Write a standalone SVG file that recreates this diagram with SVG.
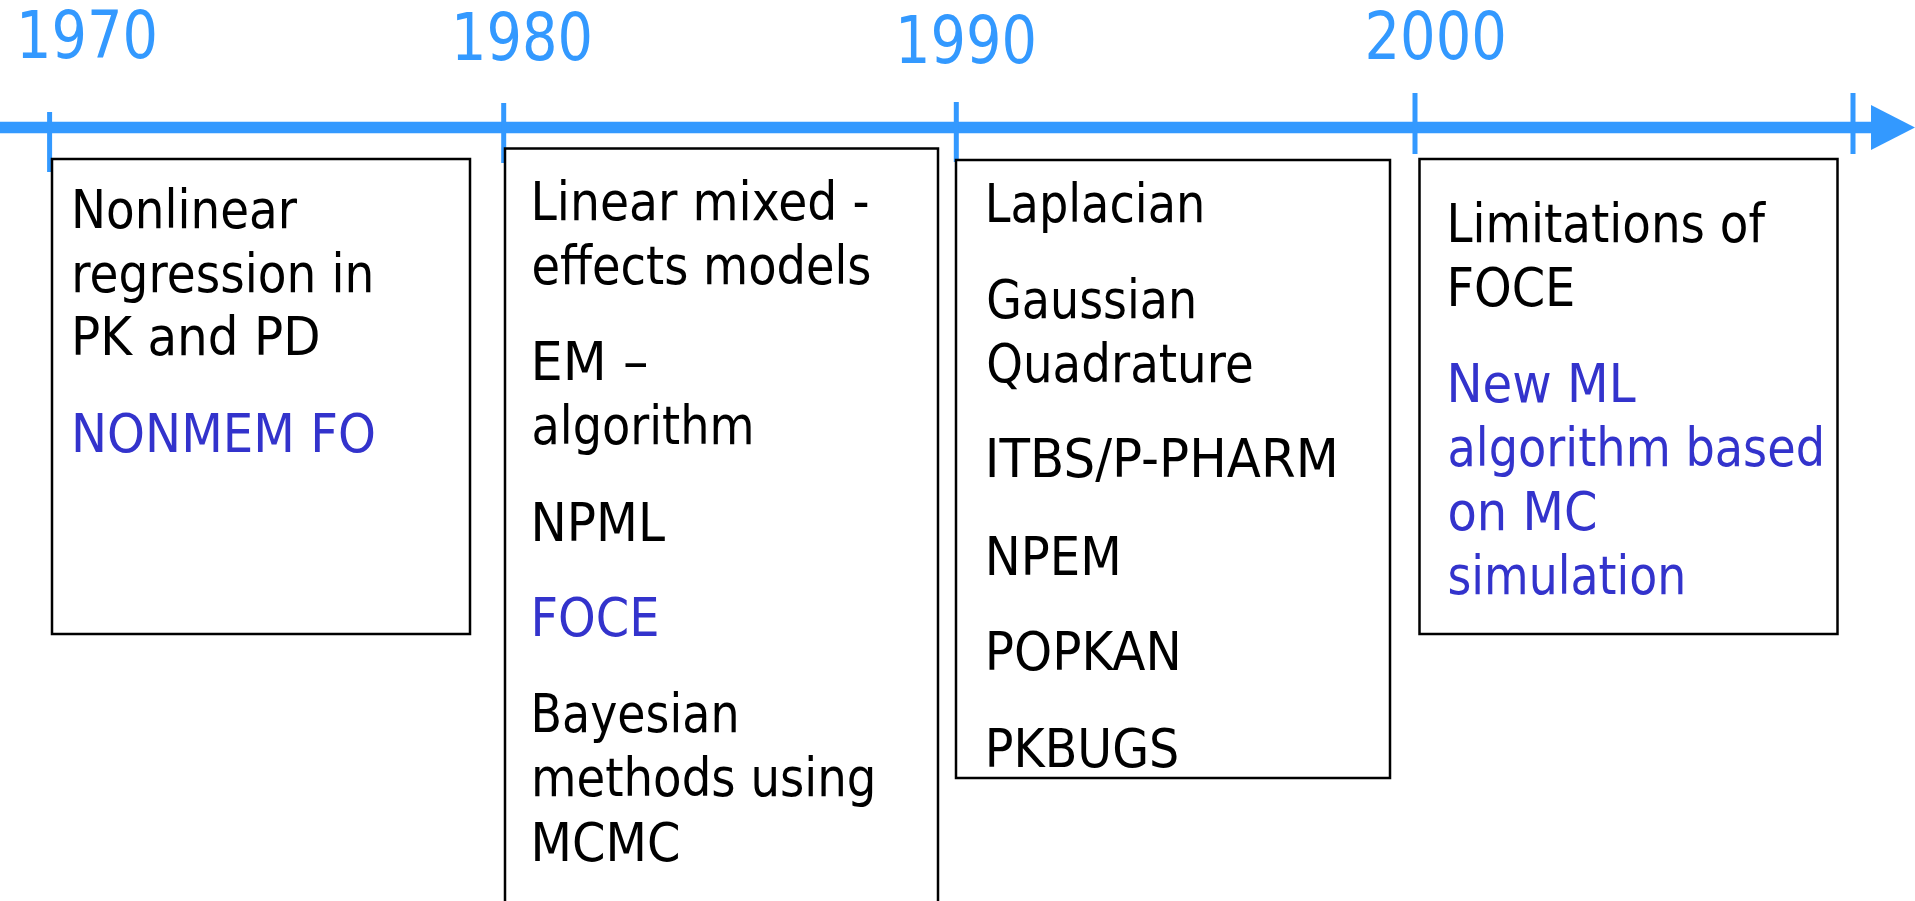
<svg xmlns="http://www.w3.org/2000/svg" width="1915" height="901" viewBox="0 0 1915 901">
  <defs>
    <style>
      .year { font-family: "DejaVu Sans", "Liberation Sans", sans-serif; font-size: 66px; fill: #3399FF; }
      .t { font-family: "DejaVu Sans", "Liberation Sans", sans-serif; font-size: 53px; fill: #000000; }
      .b { fill: #3333CC; }
      .box { fill: #FFFFFF; stroke: #000000; stroke-width: 2.5; }
      .tick { stroke: #3399FF; stroke-width: 5; }
      .axis { stroke: #3399FF; stroke-width: 11.5; fill: none; }
    </style>
    <marker id="arrow" markerUnits="userSpaceOnUse" markerWidth="44" markerHeight="45" refX="0" refY="22.5" orient="auto">
      <path d="M0,0 L44,22.5 L0,45 Z" fill="#3399FF"/>
    </marker>
  </defs>
  <rect width="1915" height="901" fill="#FFFFFF"/>

  <g id="connectors">
    <line class="axis" x1="0" y1="127.5" x2="1871" y2="127.5" marker-end="url(#arrow)"/>
    <line class="tick" x1="49.6" y1="112" x2="49.6" y2="172"/>
    <line class="tick" x1="503.7" y1="103" x2="503.7" y2="163"/>
    <line class="tick" x1="956.3" y1="102" x2="956.3" y2="162"/>
    <line class="tick" x1="1415" y1="93" x2="1415" y2="154"/>
    <line class="tick" x1="1853" y1="93" x2="1853" y2="154"/>
  </g>

  <g id="years">
    <text class="year" x="16" y="58.3" textLength="142" lengthAdjust="spacingAndGlyphs">1970</text>
    <text class="year" x="451" y="60" textLength="142" lengthAdjust="spacingAndGlyphs">1980</text>
    <text class="year" x="895" y="63.3" textLength="142" lengthAdjust="spacingAndGlyphs">1990</text>
    <text class="year" x="1364.5" y="59.3" textLength="142.5" lengthAdjust="spacingAndGlyphs">2000</text>
  </g>

  <g id="node-1970">
    <rect class="box" x="52" y="159" width="418" height="475"/>
    <text class="t" x="71" y="228.3" textLength="226" lengthAdjust="spacingAndGlyphs">Nonlinear</text>
    <text class="t" x="71.3" y="291.7" textLength="303" lengthAdjust="spacingAndGlyphs">regression in</text>
    <text class="t" x="71" y="355" textLength="249.5" lengthAdjust="spacingAndGlyphs">PK and PD</text>
    <text class="t b" x="71" y="451.7" textLength="305" lengthAdjust="spacingAndGlyphs">NONMEM FO</text>
  </g>

  <g id="node-1980">
    <rect class="box" x="505" y="148.5" width="433" height="770"/>
    <text class="t" x="530.5" y="220" textLength="339" lengthAdjust="spacingAndGlyphs">Linear mixed -</text>
    <text class="t" x="531.5" y="284" textLength="340" lengthAdjust="spacingAndGlyphs">effects models</text>
    <text class="t" x="530.5" y="380" textLength="118" lengthAdjust="spacingAndGlyphs">EM –</text>
    <text class="t" x="531.5" y="444" textLength="223" lengthAdjust="spacingAndGlyphs">algorithm</text>
    <text class="t" x="530.5" y="540.7" textLength="134.5" lengthAdjust="spacingAndGlyphs">NPML</text>
    <text class="t b" x="530.5" y="636" textLength="129" lengthAdjust="spacingAndGlyphs">FOCE</text>
    <text class="t" x="530.5" y="731.7" textLength="209" lengthAdjust="spacingAndGlyphs">Bayesian</text>
    <text class="t" x="531" y="795.7" textLength="345.5" lengthAdjust="spacingAndGlyphs">methods using</text>
    <text class="t" x="530.5" y="860.7" textLength="150" lengthAdjust="spacingAndGlyphs">MCMC</text>
  </g>

  <g id="node-1990">
    <rect class="box" x="956" y="160" width="434" height="618"/>
    <text class="t" x="984.8" y="221.7" textLength="220.5" lengthAdjust="spacingAndGlyphs">Laplacian</text>
    <text class="t" x="986.2" y="317.7" textLength="211" lengthAdjust="spacingAndGlyphs">Gaussian</text>
    <text class="t" x="986.2" y="381.7" textLength="267.5" lengthAdjust="spacingAndGlyphs">Quadrature</text>
    <text class="t" x="984.8" y="477.3" textLength="354" lengthAdjust="spacingAndGlyphs">ITBS/P-PHARM</text>
    <text class="t" x="984.8" y="575" textLength="137" lengthAdjust="spacingAndGlyphs">NPEM</text>
    <text class="t" x="984.8" y="670" textLength="197" lengthAdjust="spacingAndGlyphs">POPKAN</text>
    <text class="t" x="984.8" y="766.7" textLength="194.5" lengthAdjust="spacingAndGlyphs">PKBUGS</text>
  </g>

  <g id="node-2000">
    <rect class="box" x="1419.5" y="159" width="418" height="475"/>
    <text class="t" x="1446.4" y="241.7" textLength="318.5" lengthAdjust="spacingAndGlyphs">Limitations of</text>
    <text class="t" x="1446.4" y="305.7" textLength="129" lengthAdjust="spacingAndGlyphs">FOCE</text>
    <text class="t b" x="1446.4" y="401.7" textLength="189.3" lengthAdjust="spacingAndGlyphs">New ML</text>
    <text class="t b" x="1447.5" y="466" textLength="377.5" lengthAdjust="spacingAndGlyphs">algorithm based</text>
    <text class="t b" x="1447.5" y="530" textLength="150" lengthAdjust="spacingAndGlyphs">on MC</text>
    <text class="t b" x="1447.5" y="594" textLength="238.8" lengthAdjust="spacingAndGlyphs">simulation</text>
  </g>
</svg>
